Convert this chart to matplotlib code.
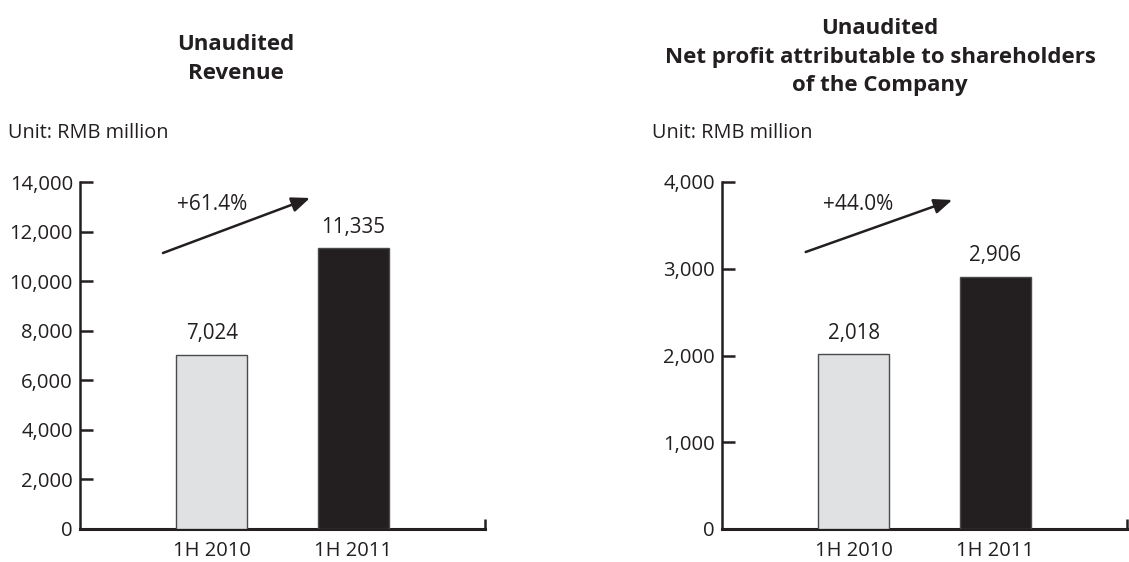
import matplotlib
matplotlib.use("Agg")
import matplotlib.pyplot as plt
from matplotlib.ticker import FuncFormatter

plt.rcParams['font.family'] = ['Open Sans', 'DejaVu Sans']

categories = ["1H 2010", "1H 2011"]
revenue = [7024, 11335]
profit = [2018, 2906]
revenue_growth = "+61.4%"
profit_growth = "+44.0%"
revenue_ticks = [0, 2000, 4000, 6000, 8000, 10000, 12000, 14000]
profit_ticks = [0, 1000, 2000, 3000, 4000]

TXT = "#231f20"
LIGHT = "#e0e1e3"
DARK = "#231f20"
EDGE = "#4a4a4a"

W, H = 1129, 562
fig = plt.figure(figsize=(W / 100, H / 100), dpi=100)

def draw(ax, values, ticks, growth, arrow_from, arrow_to, text_xy, title, title_x, title_y):
    x = list(range(len(values)))
    ax.bar(x, values, width=0.5, color=[LIGHT, DARK], edgecolor=EDGE, linewidth=1.0, zorder=3)
    ymax = ticks[-1]
    for xi, v in zip(x, values):
        ax.text(xi, v + ymax * 0.03, f"{v:,}", ha='center', va='bottom', fontsize=14.8, color=TXT)
    ax.set_xlim(-0.93, 1.93)
    ax.set_ylim(0, ymax)
    ax.set_yticks(ticks)
    ax.yaxis.set_major_formatter(FuncFormatter(lambda v, p: f"{int(v):,}"))
    ax.set_xticks(x)
    ax.set_xticklabels(categories)
    ax.set_xticks([1.93], minor=True)
    ax.tick_params(axis='x', which='major', length=0, pad=9, labelsize=14.5, colors=TXT)
    ax.tick_params(axis='x', which='minor', direction='in', length=7, width=1.8, color=TXT)
    ax.tick_params(axis='y', direction='in', length=9, width=1.8, labelsize=14.6, colors=TXT, pad=5)
    for s in ['top', 'right']:
        ax.spines[s].set_visible(False)
    for s in ['left', 'bottom']:
        ax.spines[s].set_linewidth(1.8)
        ax.spines[s].set_color(TXT)
    ax.spines['bottom'].set_linewidth(2.2)
    ax.spines['bottom'].set_capstyle('projecting')
    ax.annotate("", xy=arrow_to, xytext=arrow_from,
                arrowprops=dict(arrowstyle='-|>,head_length=1.1,head_width=0.45', color=TXT, lw=1.8,
                                shrinkA=0, shrinkB=0))
    ax.text(text_xy[0], text_xy[1], growth, ha='center', va='center', fontsize=15, color=TXT)
    fig.text(title_x, title_y, title, ha='center', va='center', fontsize=16, fontweight='bold',
             color=TXT, linespacing=1.5)

ax1 = fig.add_axes([80 / W, 1 - 529 / H, 405 / W, 347 / H])
draw(ax1, revenue, revenue_ticks, revenue_growth, (-0.344, 11136), (0.694, 13356), (0.0, 13073),
     "Unaudited\nRevenue", 236 / W, 1 - 59 / H)
fig.text(8 / W, 1 - 133 / H, "Unit: RMB million", ha='left', va='center', fontsize=14.3, color=TXT)

ax2 = fig.add_axes([722 / W, 1 - 529 / H, 405 / W, 347 / H])
draw(ax2, profit, profit_ticks, profit_growth, (-0.339, 3193), (0.696, 3793), (0.034, 3735),
     "Unaudited\nNet profit attributable to shareholders\nof the Company", 880 / W, 1 - 57 / H)
fig.text(652 / W, 1 - 133 / H, "Unit: RMB million", ha='left', va='center', fontsize=14.3, color=TXT)

fig.savefig("out.png", dpi=100)
